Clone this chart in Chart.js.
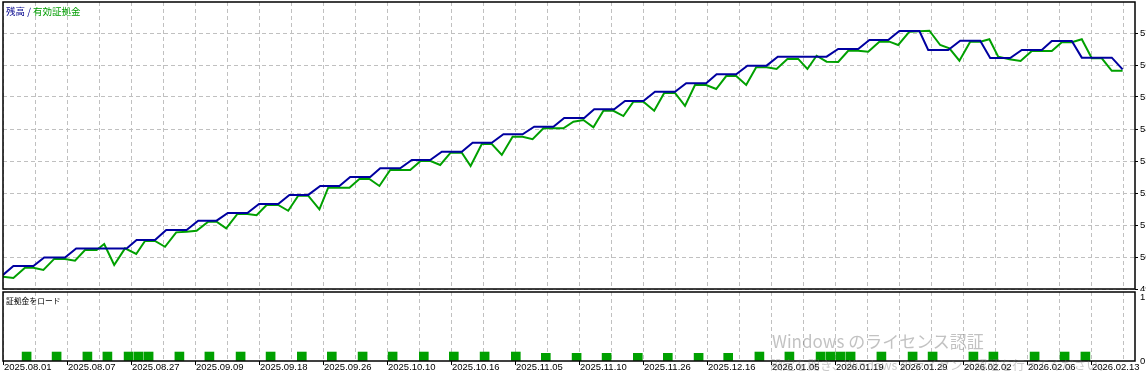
<!DOCTYPE html>
<html>
<head>
<meta charset="utf-8">
<script src="https://cdn.jsdelivr.net/npm/chart.js@4.4.1/dist/chart.umd.min.js"></script>
<style>
  html, body { margin: 0; padding: 0; overflow: hidden; background: #fff; }
  #wrap { position: relative; width: 1146px; height: 377px; overflow: hidden; }
  canvas { position: absolute; left: 0; }
  #balanceChart { top: 0; }
  #loadChart { top: 290px; }
  .txt { position: absolute; white-space: nowrap; line-height: 1; font-family: "Noto Sans CJK JP", sans-serif; }
  #title { left: 6px; top: 7px; font-size: 9.5px; }
  #loadTitle { left: 6px; top: 297px; font-size: 7.8px; color: #000; }
  #wm1 { left: 772px; top: 332px; font-size: 17px; color: rgba(120,120,120,0.45); }
  #wm2 { left: 770px; top: 359px; font-size: 12.5px; color: rgba(120,120,120,0.4); }
</style>
</head>
<body>
<div id="wrap">
  <canvas id="balanceChart" width="1180" height="291"></canvas>
  <canvas id="loadChart" width="1180" height="87"></canvas>
  <div id="title" class="txt"><span style="color:#00008c">残高 / </span><span style="color:#009c00">有効証拠金</span></div>
  <div id="loadTitle" class="txt">証拠金をロード</div>
  <div id="wm1" class="txt">Windows のライセンス認証</div>
  <div id="wm2" class="txt">設定を開き、Windows のライセンス認証を行ってください。</div>
</div>
<script>
// x axis is the deal number, labelled with a date every 16 deals
const dateLabels = ["2025.08.01", "2025.08.07", "2025.08.27", "2025.09.09", "2025.09.18", "2025.09.26",
  "2025.10.10", "2025.10.16", "2025.11.05", "2025.11.10", "2025.11.26", "2025.12.16",
  "2026.01.05", "2026.01.19", "2026.01.29", "2026.02.02", "2026.02.06", "2026.02.13"];

// right axis ticks
const balanceTicks = [49000, 50000, 51000, 52000, 53000, 54000, 55000, 56000, 57000];
const loadTicks = [0, 1];

// balance (blue)
const balanceDeals = [0, 2.6, 7.6, 10.3, 15.5, 18.3, 30.9, 33.4, 38, 40.8, 45.9, 48.8, 53.4, 56.2, 61.1, 64,
  68.8, 71.6, 76.3, 79.3, 84.1, 86.8, 91.8, 94.3, 99.3, 102.2, 106.8, 109.7, 114.7, 117.4, 122.2, 125.1,
  129.9, 132.8, 137.6, 140.3, 145.3, 147.8, 152.8, 155.5, 160.1, 163, 168, 170.8, 175.8, 178.4, 183.3, 186.1,
  190.9, 193.7, 205.9, 208.8, 213.8, 216.6, 221.3, 224.1, 229.1, 231.3, 236.3, 239.3, 244.3, 246.8, 251.8,
  254.7, 259.7, 262.2, 267.2, 269.7, 277.2, 279.9];
const balanceValues = [49440, 49720, 49720, 49985, 49985, 50265, 50265, 50530, 50530, 50845, 50845, 51135,
  51135, 51375, 51375, 51655, 51655, 51940, 51940, 52220, 52220, 52500, 52500, 52770, 52770, 53030, 53030,
  53290, 53290, 53570, 53570, 53835, 53835, 54070, 54070, 54345, 54345, 54615, 54615, 54875, 54875, 55165,
  55165, 55430, 55430, 55710, 55710, 55980, 55980, 56260, 56260, 56500, 56500, 56780, 56780, 57060, 57060,
  56470, 56470, 56760, 56760, 56220, 56220, 56470, 56470, 56750, 56750, 56230, 56230, 55865];

// equity (green)
const equityDeals = [0, 2.6, 5.5, 7.6, 10.1, 12.8, 15.5, 18, 20.5, 23.4, 25.3, 27.8, 30.5, 33.3, 35.5, 38,
  40.5, 43.3, 45.9, 48.4, 51.3, 53.4, 55.8, 58.6, 61.1, 63.4, 65.9, 68.8, 71.3, 73.8, 76.3, 79.1, 81.3, 86.6,
  89.1, 91.6, 94.1, 96.8, 101.8, 104.4, 106.9, 109.3, 111.9, 114.7, 116.9, 119.7, 122.2, 124.7, 127.4, 129.9,
  132.4, 135.1, 140.1, 142.6, 145.1, 147.6, 150.1, 152.6, 155.1, 157.6, 160.1, 162.8, 165.3, 168, 170.5, 173,
  175.8, 178.3, 180.8, 183.3, 185.8, 188.3, 190.9, 193.4, 196.1, 198.8, 201.1, 203.4, 205.9, 208.8, 211.3,
  213.8, 216.3, 219.1, 221.6, 223.8, 226.6, 231.6, 234.3, 236.6, 239.1, 241.8, 244.3, 246.6, 248.8, 251.6,
  254.4, 257.2, 262.2, 264.7, 267.2, 269.7, 272.2, 274.7, 277.2, 279.9];
const equityValues = [49385, 49345, 49665, 49665, 49595, 49940, 49940, 49885, 50220, 50220, 50405, 49750,
  50270, 50095, 50500, 50500, 50320, 50770, 50790, 50820, 51105, 51105, 50895, 51345, 51345, 51305, 51625,
  51625, 51445, 51915, 51915, 51490, 52165, 52165, 52440, 52440, 52220, 52720, 52720, 53000, 53000, 52875,
  53260, 53260, 52845, 53530, 53530, 53190, 53760, 53760, 53680, 54020, 54020, 54230, 54280, 54055, 54570,
  54570, 54405, 54855, 54855, 54570, 55125, 55125, 54720, 55375, 55375, 55250, 55655, 55655, 55375, 55930,
  55930, 55875, 56190, 56190, 55875, 56290, 56105, 56095, 56445, 56445, 56415, 56730, 56730, 56625, 57040,
  57070, 56625, 56520, 56135, 56730, 56730, 56805, 56260, 56180, 56125, 56440, 56440, 56710, 56710, 56805,
  56210, 56210, 55820, 55820];

// deposit load
const loadDeals = [5.9, 13.4, 21.1, 26.1, 31.4, 33.9, 36.4, 44.1, 51.6, 59.4, 66.9, 74.7, 82.2, 89.9, 97.4,
  105.2, 112.7, 120.4, 128.2, 135.7, 143.4, 150.9, 158.7, 166.2, 173.9, 181.3, 189.1, 196.6, 204.4, 206.9,
  209.4, 211.9, 219.6, 227.4, 232.4, 242.6, 247.6, 257.9, 265.4, 270.6];
const loadValues = [0.14, 0.14, 0.14, 0.14, 0.14, 0.14, 0.14, 0.14, 0.14, 0.14, 0.14, 0.14, 0.14, 0.14, 0.14,
  0.14, 0.14, 0.14, 0.14, 0.12, 0.12, 0.12, 0.12, 0.12, 0.12, 0.12, 0.14, 0.14, 0.14, 0.14,
  0.14, 0.14, 0.14, 0.14, 0.14, 0.14, 0.14, 0.14, 0.14, 0.14];

const BLUE = "#0000a0";
const GREEN = "#00a000";
const GRID = "#c0c0c0";

Chart.defaults.font.family = "'Liberation Sans', Arial, sans-serif";
Chart.defaults.font.size = 9.5;
Chart.defaults.color = "#000";
Chart.defaults.animation = false;

// black frame round the plot area
const framePlugin = {
  id: "frame",
  afterDraw(chart) {
    const { ctx, chartArea: a } = chart;
    ctx.save();
    ctx.strokeStyle = "#000";
    ctx.lineWidth = 1.5;
    ctx.strokeRect(a.left, a.top, a.right - a.left, a.bottom - a.top);
    ctx.restore();
  }
};

// drop the label overhang padding so the plot area sits where we put it
function noPad(s) {
  s.paddingTop = 0;
  s.paddingBottom = 0;
  s.paddingLeft = 0;
  s.paddingRight = 0;
}

function xScale(showLabels) {
  return {
    type: "linear",
    min: 0,
    max: 283,
    offset: false,
    border: { display: false, dash: [4, 3] },
    grid: {
      offset: false,
      color: GRID,
      drawTicks: showLabels,
      tickLength: 4,
      tickColor: ctx => (ctx.tick && ctx.tick.value % 16 === 0) ? "#000" : "rgba(0,0,0,0)"
    },
    ticks: {
      display: showLabels,
      stepSize: 8,
      includeBounds: false,
      autoSkip: false,
      maxRotation: 0,
      minRotation: 0,
      align: "start",
      padding: -3,
      labelOffset: 1,
      callback: v => v % 16 === 0 ? (dateLabels[v / 16] || "") : ""
    },
    afterFit: s => { s.height = showLabels ? 16 : 0; noPad(s); }
  };
}

const balanceData = balanceDeals.map((x, i) => ({ x: x, y: balanceValues[i] }));
const equityData = equityDeals.map((x, i) => ({ x: x, y: equityValues[i] }));
const loadData = loadDeals.map((x, i) => ({ x: x, y: loadValues[i] }));

new Chart(document.getElementById("balanceChart"), {
  type: "line",
  data: {
    datasets: [
      { label: "残高", data: balanceData, borderColor: BLUE, borderWidth: 2, pointRadius: 0, tension: 0 },
      { label: "有効証拠金", data: equityData, borderColor: GREEN, borderWidth: 2, pointRadius: 0, tension: 0 }
    ]
  },
  options: {
    responsive: false,
    devicePixelRatio: 1,
    layout: { padding: { left: 3, top: 2, right: 0, bottom: 2 }, autoPadding: false },
    plugins: { legend: { display: false }, tooltip: { enabled: false } },
    scales: {
      x: xScale(false),
      y: {
        position: "right",
        min: 49000,
        max: 57968.75,
        border: { display: false, dash: [4, 3] },
        grid: { color: GRID, drawTicks: true, tickLength: 3, tickColor: "#000" },
        ticks: { padding: 2, callback: v => String(v) },
        afterBuildTicks: s => { s.ticks = balanceTicks.map(v => ({ value: v })); },
        afterFit: s => { s.width = 45; noPad(s); }
      }
    }
  },
  plugins: [framePlugin]
});

new Chart(document.getElementById("loadChart"), {
  type: "bar",
  data: {
    datasets: [
      { label: "証拠金をロード", data: loadData, backgroundColor: GREEN, borderWidth: 0, barThickness: 9 }
    ]
  },
  options: {
    responsive: false,
    devicePixelRatio: 1,
    layout: { padding: { left: 3, top: 2, right: 0, bottom: 0 }, autoPadding: false },
    plugins: { legend: { display: false }, tooltip: { enabled: false } },
    scales: {
      x: xScale(true),
      y: {
        position: "right",
        min: 0,
        max: 1.078,
        border: { display: false },
        grid: { drawOnChartArea: false, drawTicks: true, tickLength: 3, tickColor: "rgba(0,0,0,0)" },
        ticks: { padding: 2, callback: v => String(v) },
        afterBuildTicks: s => { s.ticks = loadTicks.map(v => ({ value: v })); },
        afterFit: s => { s.width = 45; noPad(s); }
      }
    }
  },
  plugins: [framePlugin]
});
</script>
</body>
</html>
